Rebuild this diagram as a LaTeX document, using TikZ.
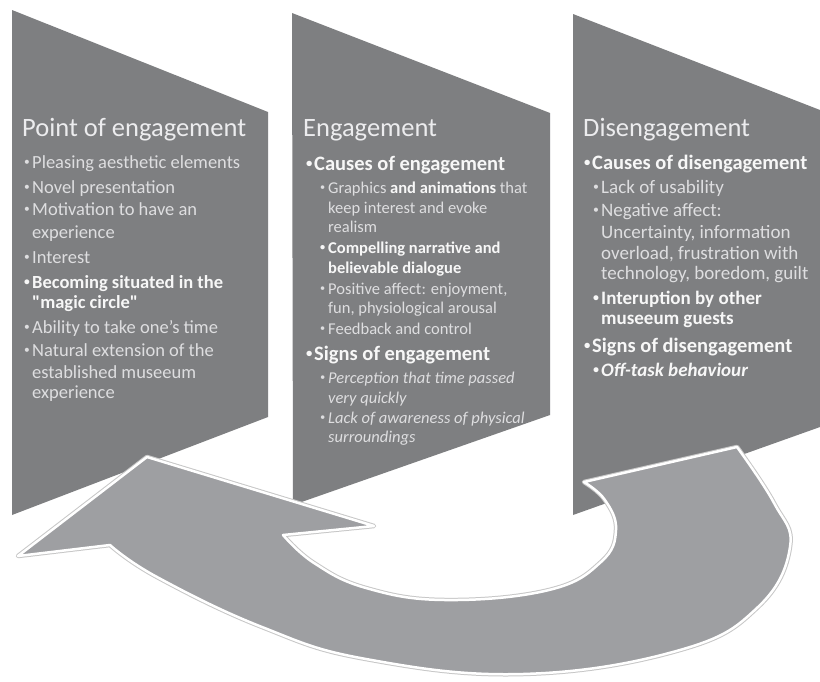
\documentclass[tikz,border=0pt]{standalone}
\usepackage{fontspec}
\usepackage{graphicx}
\setmainfont{Carlito}
\definecolor{panelgray}{RGB}{126,127,129}
\definecolor{arrowgray}{RGB}{158,159,162}
\definecolor{txtreg}{RGB}{222,222,224}
\definecolor{txtbold}{RGB}{247,247,247}
\definecolor{txttitle}{RGB}{236,236,238}
\newcommand\bul{\makebox[8pt][l]{\raisebox{0.13em}{\scalebox{0.62}{\textbullet}}}}
\newcommand\hb[1]{\textcolor{txtbold}{\bfseries #1}}
\newcommand\sq{{\addfontfeatures{Ligatures=TeXOff}\char34}}
\newcommand\arrowshape[1]{%
  \path[#1] (584,482) -- (737,447)
    -- plot[smooth, tension=0.7] coordinates {(737,447) (774,503) (790,547) (758,607) (680,650) (523,674) (366,659) (262,627) (157,577) (110,545)}
    -- (18,556) -- (147,457) -- (374,526) -- (283,535)
    -- plot[smooth, tension=0.7] coordinates {(283,535) (314,563) (366,588) (445,600) (549,590) (601,562) (616,530) (605,500) (584,482)}
    -- cycle;}
\tikzset{
  panel/.style={fill=panelgray},
  ttl/.style={anchor=base west, inner sep=0, text=txttitle, font=\fontsize{26.5}{28}\selectfont},
  pone/.style={anchor=base west, inner sep=0, text=txtreg, font=\fontsize{18.5}{20}\selectfont},
  ponebold/.style={pone, text=txtbold, font=\fontsize{18.5}{20}\selectfont\bfseries},
  mainb/.style={anchor=base west, inner sep=0, text=txtbold, font=\fontsize{20.5}{22}\selectfont\bfseries},
  subA/.style={anchor=base west, inner sep=0, text=txtreg, font=\fontsize{16.5}{18}\selectfont},
  subAbold/.style={subA, text=txtbold, font=\fontsize{16.5}{18}\selectfont\bfseries},
  subAit/.style={subA, font=\fontsize{16.5}{18}\selectfont\itshape},
  subB/.style={anchor=base west, inner sep=0, text=txtreg, font=\fontsize{19}{20}\selectfont},
  subBbold/.style={subB, text=txtbold, font=\fontsize{19}{20}\selectfont\bfseries},
}
\begin{document}
\begin{tikzpicture}[x=1pt,y=-1pt]
\useasboundingbox (0,0) rectangle (820,681);
\fill[white] (0,0) rectangle (820,681);

% panels
\path[panel] (12,10) -- (268,112) -- (268,417) -- (12,515) -- cycle;
\path[panel] (292,13) -- (550,113) -- (550,415) -- (293,505) -- cycle;
\path[panel] (573,14) -- (820,110) -- (820,427) -- (573,515) -- cycle;

% panel 1 text
\node[ttl] (t1) at (22,136) {Point of engagement};
\node[pone] (a1) at (24,168) {\bul Pleasing aesthetic elements};
\node[pone] (a2) at (24,193) {\bul Novel presentation};
\node[pone] (a3) at (24,215) {\bul Motivation to have an};
\node[pone] (a3b) at (32,238) {experience};
\node[pone] (a4) at (24,263) {\bul Interest};
\node[ponebold] (a5) at (24,288) {\bul Becoming situated in the};
\node[ponebold] (a5b) at (32,308) {\sq magic circle\sq};
\node[pone] (a6) at (24,333) {\bul Ability to take one’s time};
\node[pone] (a7) at (24,356) {\bul Natural extension of the};
\node[pone] (a7b) at (32,378) {established museeum};
\node[pone] (a7c) at (32,398) {experience};

% panel 2 text
\node[ttl] (t2) at (303,136) {Engagement};
\node[mainb] (b1) at (306,170) {\bul Causes of engagement};
\node[subA] (b2) at (320,193) {\bul Graphics \hb{and animations} that};
\node[subA] (b2b) at (328,213) {keep interest and evoke};
\node[subA] (b2c) at (328,232) {realism};
\node[subAbold] (b3) at (320,253) {\bul Compelling narrative and};
\node[subAbold] (b3b) at (328,273) {believable dialogue};
\node[subA] (b4) at (320,294) {\bul Positive affect: enjoyment,};
\node[subA] (b4b) at (328,313) {fun, physiological arousal};
\node[subA] (b5) at (320,334) {\bul Feedback and control};
\node[mainb] (b6) at (306,360) {\bul Signs of engagement};
\node[subAit] (b7) at (320,383) {\bul Perception that time passed};
\node[subAit] (b7b) at (328,403) {very quickly};
\node[subAit] (b8) at (320,423) {\bul Lack of awareness of physical};
\node[subAit] (b8b) at (328,442) {surroundings};

% panel 3 text
\node[ttl] (t3) at (583,136) {Disengagement};
\node[mainb] (c1) at (584,169) {\bul Causes of disengagement};
\node[subB] (c2) at (593,193) {\bul Lack of usability};
\node[subB] (c3) at (593,216) {\bul Negative affect:};
\node[subB] (c3b) at (601,238) {Uncertainty, information};
\node[subB] (c3c) at (601,259) {overload, frustration with};
\node[subB] (c3d) at (601,279) {technology, boredom, guilt};
\node[subBbold] (c4) at (593,304) {\bul Interuption by other};
\node[subBbold] (c4b) at (601,324) {museeum guests};
\node[mainb] (c5) at (584,352) {\bul Signs of disengagement};
\node[subBbold, font=\fontsize{19}{20}\selectfont\bfseries\itshape] (c6) at (593,376) {\bul Off-task behaviour};

% circular arrow
\arrowshape{draw=black!22, line width=4.5pt, line join=round}
\arrowshape{fill=arrowgray, draw=white, line width=2.5pt, line join=round}
\end{tikzpicture}
\end{document}
